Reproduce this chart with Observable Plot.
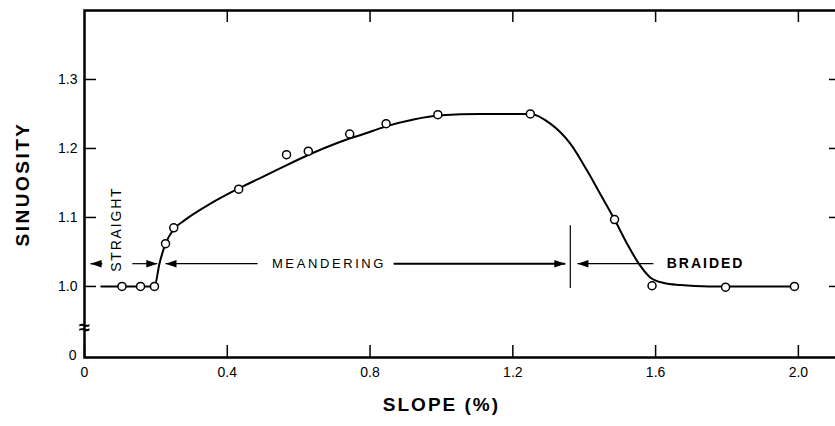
<!DOCTYPE html>
<html>
<head>
<meta charset="utf-8">
<script src="https://cdn.jsdelivr.net/npm/d3@7"></script>
<script src="https://cdn.jsdelivr.net/npm/@observablehq/plot@0.6"></script>
<style>
  html, body { margin: 0; padding: 0; background: white; }
</style>
</head>
<body>
<div id="chart"></div>
<script>
// ---- data ----
const obsSlope = [0.105, 0.157, 0.196, 0.227, 0.250, 0.432, 0.566, 0.627, 0.743, 0.845, 0.990, 1.249, 1.485, 1.590, 1.796, 1.989];
const obsSinuosity = [1.000, 1.000, 1.000, 1.062, 1.085, 1.141, 1.191, 1.196, 1.221, 1.236, 1.249, 1.250, 1.097, 1.001, 0.999, 1.000];

// hand-drawn fitted curve, knots
const curveSlope = [0.047, 0.196, 0.210, 0.227, 0.250, 0.278, 0.353, 0.432, 0.512, 0.567, 0.633, 0.708, 0.782, 0.845, 0.922, 1.000, 1.109, 1.249, 1.305, 1.361, 1.408, 1.445, 1.485, 1.520, 1.553, 1.585, 1.623, 1.669, 1.750, 1.989];
const curveSinuosity = [1.000, 1.000, 1.033, 1.062, 1.083, 1.095, 1.120, 1.142, 1.162, 1.176, 1.192, 1.208, 1.221, 1.232, 1.242, 1.248, 1.250, 1.250, 1.236, 1.207, 1.168, 1.134, 1.097, 1.062, 1.033, 1.013, 1.005, 1.002, 1.000, 1.000];

const xTicks = [0, 0.4, 0.8, 1.2, 1.6, 2.0];
const xTickLabels = ["0", "0.4", "0.8", "1.2", "1.6", "2.0"];
const yTicks = [1.0, 1.1, 1.2, 1.3];
const yTickLabels = ["1.0", "1.1", "1.2", "1.3"];
const yBreakValue = 0.9;      // position of the "0" label below the axis break
const yBreakLabel = "0";
const breakMarkY = 0.94;

// regime annotations (slope, sinuosity)
const regimeLabels = ["STRAIGHT", "MEANDERING", "BRAIDED"];
const regimeLabelX = [0.090, 0.685, 1.740];
const regimeLabelY = [1.083, 1.033, 1.033];
const arrowY = 1.033;
const arrowFrom = [0.050, 0.134, 0.485, 0.866, 1.594];
const arrowTip  = [0.017, 0.204, 0.227, 1.347, 1.381];
const arrowDash = ["none", "4,4", "14,4,2,4", "none", "none"];
const arrowWidth = [1.5, 1.2, 1.2, 2, 1.2];
const dividerX = 1.361;
const dividerY = [0.997, 1.088];

const xTitle = "SLOPE (%)";
const yTitle = "SINUOSITY";

// ---- build tables ----
const points = obsSlope.map((x, i) => ({x, y: obsSinuosity[i]}));
const curve = curveSlope.map((x, i) => ({x, y: curveSinuosity[i]}));
const arrows = arrowFrom.map((x1, i) => ({x1, x2: arrowTip[i], dash: arrowDash[i], w: arrowWidth[i], dir: arrowTip[i] > x1 ? "right" : "left"}));
const labels = regimeLabels.map((t, i) => ({t, x: regimeLabelX[i], y: regimeLabelY[i]}));

const headRight = {draw(ctx) { ctx.moveTo(0, 0); ctx.lineTo(-11, -3.8); ctx.lineTo(-11, 3.8); ctx.closePath(); }};
const headLeft  = {draw(ctx) { ctx.moveTo(0, 0); ctx.lineTo(11, -3.8); ctx.lineTo(11, 3.8); ctx.closePath(); }};

const fmtX = d => xTickLabels[xTicks.indexOf(d)];
const fmtY = d => yTickLabels[yTicks.indexOf(d)];

const chart = Plot.plot({
  width: 835,
  height: 426,
  marginLeft: 84,
  marginRight: -5,
  marginTop: 10,
  marginBottom: 69,
  style: {fontFamily: "'Liberation Sans', Arial, sans-serif", fontSize: "14px", color: "black", background: "white"},
  x: {domain: [0, 2.118]},
  y: {domain: [0.897, 1.4]},
  marks: [
    Plot.frame({stroke: "black", strokeWidth: 2.5}),
    Plot.axisX({anchor: "bottom", ticks: xTicks, tickSize: -12, tickPadding: 22, tickFormat: fmtX, label: null, fontSize: 14, strokeWidth: 1.5}),
    Plot.axisX({anchor: "top", ticks: xTicks.slice(1), tickSize: -11, tickFormat: () => "", label: null, strokeWidth: 1.5}),
    Plot.axisY({anchor: "left", ticks: yTicks, tickSize: -12, tickPadding: 19, tickFormat: fmtY, label: null, fontSize: 14, strokeWidth: 1.5}),
    Plot.axisY({anchor: "left", ticks: [yBreakValue], tickSize: 0, tickPadding: 8, tickFormat: () => yBreakLabel, label: null, fontSize: 14}),
    Plot.axisY({anchor: "right", ticks: yTicks, tickSize: -12, tickFormat: () => "", label: null, strokeWidth: 1.5}),
    Plot.text(["≈"], {x: 0, y: breakMarkY, text: d => d, fontSize: 20, fontWeight: "bold"}),
    Plot.text([yTitle], {frameAnchor: "left", dx: -62, rotate: -90, textAnchor: "middle", text: d => d, fontSize: 19, fontWeight: "bold"}),
    Plot.text([xTitle], {x: 1.0, frameAnchor: "bottom", dy: 53, text: d => d, fontSize: 19, fontWeight: "bold"}),
    // annotations
    Plot.link(arrows, {x1: "x1", x2: "x2", y1: arrowY, y2: arrowY, stroke: "black", strokeWidth: "w", strokeDasharray: "dash"}),
    Plot.dot(arrows.filter(d => d.dir === "right"), {x: "x2", y: arrowY, symbol: headRight, fill: "black", stroke: null, r: 5}),
    Plot.dot(arrows.filter(d => d.dir === "left"), {x: "x2", y: arrowY, symbol: headLeft, fill: "black", stroke: null, r: 5}),
    Plot.ruleX([dividerX], {y1: dividerY[0], y2: dividerY[1], stroke: "black", strokeWidth: 1.2}),
    Plot.text(labels.filter(d => d.t === "STRAIGHT"), {x: "x", y: "y", text: "t", rotate: -90, fontSize: 14}),
    Plot.text(labels.filter(d => d.t === "MEANDERING"), {x: "x", y: "y", text: "t", fontSize: 13}),
    Plot.text(labels.filter(d => d.t === "BRAIDED"), {x: "x", y: "y", text: "t", fontSize: 14, fontWeight: "bold"}),
    // data
    Plot.line(curve, {x: "x", y: "y", curve: "monotone-x", stroke: "black", strokeWidth: 2}),
    Plot.dot(points, {x: "x", y: "y", r: 4, fill: "white", stroke: "black", strokeWidth: 1.5})
  ]
});

// letter spacing (not a Plot text option) applied to the rendered text by content
const spacing = {[yTitle]: "2.5px", [xTitle]: "2px", STRAIGHT: "1.8px", MEANDERING: "2.6px", BRAIDED: "2px"};
chart.querySelectorAll("text").forEach(t => {
  const ls = spacing[t.textContent];
  if (ls) t.setAttribute("letter-spacing", ls);
});
document.getElementById("chart").appendChild(chart);
</script>
</body>
</html>
